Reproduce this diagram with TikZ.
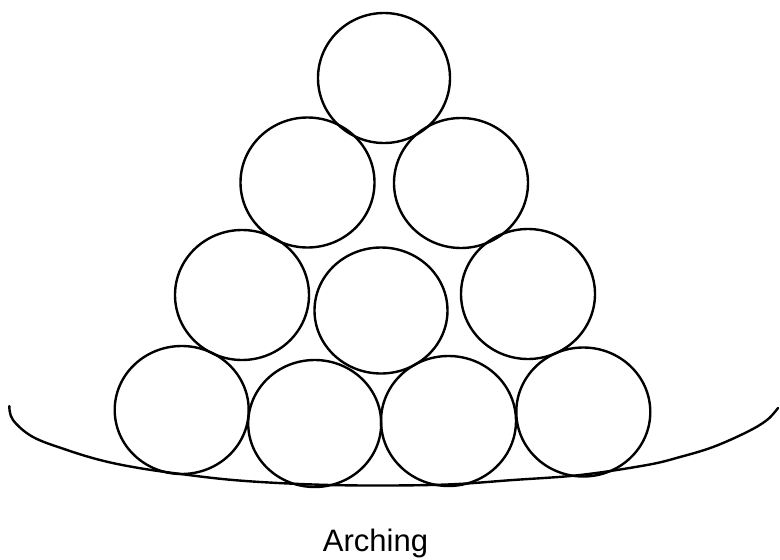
\documentclass[tikz,border=0pt]{standalone}
\usepackage{fontspec}
\setmainfont{Liberation Sans}
\begin{document}
\begin{tikzpicture}[x=1pt,y=-1pt,
  ball/.style={draw=black,line width=2.4pt},
  bowl/.style={draw=black,line width=2.4pt,line cap=round}]
\useasboundingbox (0,0) rectangle (780,560);
% row 1
\draw[ball] (384,78) ellipse [x radius=66,y radius=65];
% row 2
\draw[ball] (307.5,182.5) ellipse [x radius=67,y radius=65];
\draw[ball] (461,183) ellipse [x radius=67,y radius=65];
% row 3
\draw[ball] (242,295) ellipse [x radius=67,y radius=65];
\draw[ball] (381,310.5) ellipse [x radius=66.5,y radius=63];
\draw[ball] (528,294) ellipse [x radius=67,y radius=65];
% row 4
\draw[ball] (181.7,410) ellipse [x radius=67,y radius=64];
\draw[ball] (314.7,423.5) ellipse [x radius=66.5,y radius=63.5];
\draw[ball] (448.5,421) ellipse [x radius=67.5,y radius=65];
\draw[ball] (583.3,412) ellipse [x radius=67,y radius=64.5];
% bowl
\draw[bowl] plot[smooth,tension=0.6] coordinates {
 (9.3,406) (13,420) (33,437) (67,450) (100,460) (133,467) (173,473)
 (233,480) (300,484) (367,485.5) (447,484.5) (513,480) (580,475)
 (647,465) (680,457) (713,447) (747,432) (767,420) (778,408)};
\node[anchor=base,font=\fontsize{31}{37}\selectfont,inner sep=0pt] (label) at (375.5,551) {Arching};
\end{tikzpicture}
\end{document}
